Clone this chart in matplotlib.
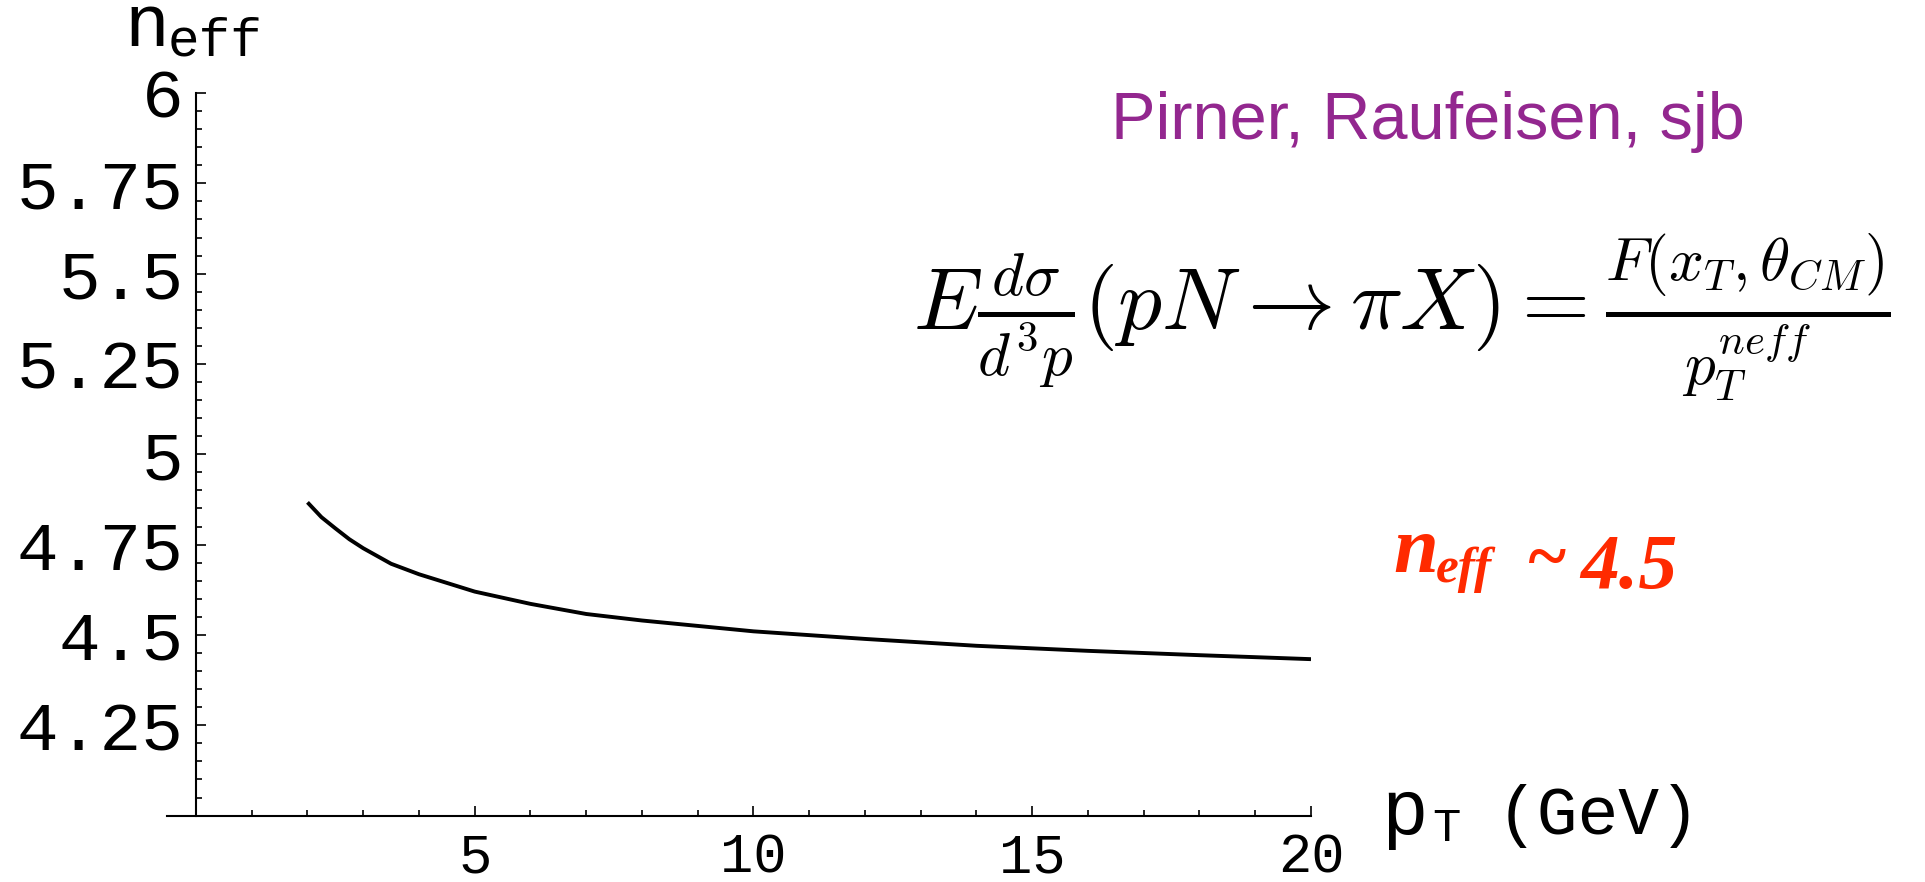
import matplotlib
matplotlib.use('Agg')
import matplotlib.pyplot as plt
from matplotlib.ticker import MultipleLocator, FixedLocator

# curve: n_eff vs p_T (GeV)
pt = [2.0, 2.25, 2.5, 2.75, 3.0, 3.5, 4.0, 5.0, 6.0, 7.0, 8.0, 10.0, 12.0, 14.0, 16.0, 18.0, 20.0]
neff = [4.867, 4.826, 4.795, 4.765, 4.740, 4.697, 4.668, 4.620, 4.586, 4.558, 4.540, 4.510, 4.489, 4.470, 4.456, 4.444, 4.433]

xticks = [5, 10, 15, 20]
yticks = [4.25, 4.5, 4.75, 5, 5.25, 5.5, 5.75, 6]
ytick_labels = ['4.25', '4.5', '4.75', '5', '5.25', '5.5', '5.75', '6']

mono = 'Liberation Mono'
plt.rcParams['mathtext.fontset'] = 'cm'

W, H = 1925, 882
fig = plt.figure(figsize=(W / 100.0, H / 100.0), dpi=100)
ax = fig.add_axes([167.0 / W, 1 - 815.6 / H, (1311.0 - 167.0) / W, (815.6 - 93.0) / H])

ax.plot(pt, neff, '-', color='black', lw=2.8, solid_capstyle='butt')

ax.set_xlim(-0.52, 20)
ax.set_ylim(4, 6)
ax.spines['top'].set_visible(False)
ax.spines['right'].set_visible(False)
ax.spines['left'].set_position(('data', 0))
ax.spines['bottom'].set_position(('data', 4))
for s in ('left', 'bottom'):
    ax.spines[s].set_linewidth(1.5)

ax.xaxis.set_major_locator(FixedLocator(xticks))
ax.xaxis.set_minor_locator(MultipleLocator(1))
ax.yaxis.set_major_locator(FixedLocator(yticks))
ax.set_yticklabels(ytick_labels)
ax.yaxis.set_minor_locator(MultipleLocator(0.05))
ax.tick_params(which='both', direction='in', width=1.2)
ax.tick_params(which='major', length=7)
ax.tick_params(which='minor', length=4)
ax.tick_params(axis='y', which='major', pad=9, labelsize=50)
ax.tick_params(axis='x', which='major', pad=12, labelsize=40)
for lab in ax.get_xticklabels() + ax.get_yticklabels():
    lab.set_family(mono)

def fx(px):
    return px / float(W)

def fy(py):
    return 1 - py / float(H)

# axis labels
fig.text(fx(124), fy(46), 'n', family=mono, fontsize=54, va='baseline', ha='left')
fig.text(fx(168), fy(55), 'eff', family=mono, fontsize=38, va='baseline', ha='left')
fig.text(fx(1381), fy(834), 'p', family=mono, fontsize=56, va='baseline', ha='left')
fig.text(fx(1432), fy(841), 'T', family=mono, fontsize=34, va='baseline', ha='left')
fig.text(fx(1497), fy(834), '(GeV)', family=mono, fontsize=49, va='baseline', ha='left')

# annotations
fig.text(fx(1111), fy(139), 'Pirner, Raufeisen, sjb', family='Liberation Sans',
         fontsize=48, color='#93278f', va='baseline', ha='left')
fig.text(fx(1891), fy(317),
         r'$E\frac{d\sigma}{d^3p}(pN \rightarrow \pi X) = \frac{F(x_T,\theta_{CM})}{p_T^{neff}}$',
         fontsize=63, color='black', va='center', ha='right')

red = '#ff2a00'
fig.text(fx(1393), fy(572), 'n', family='Liberation Serif', style='italic', weight='bold',
         fontsize=58, color=red, va='baseline', ha='left')
fig.text(fx(1436), fy(582), 'eff', family='Liberation Serif', style='italic', weight='bold',
         fontsize=37, color=red, va='baseline', ha='left')
fig.text(fx(1526), fy(580), '~', family='Liberation Serif', style='italic', weight='bold',
         fontsize=52, color=red, va='baseline', ha='left')
fig.text(fx(1580), fy(588), '4.5', family='Liberation Serif', style='italic', weight='bold',
         fontsize=56, color=red, va='baseline', ha='left')

plt.savefig('out.png', dpi=100)
